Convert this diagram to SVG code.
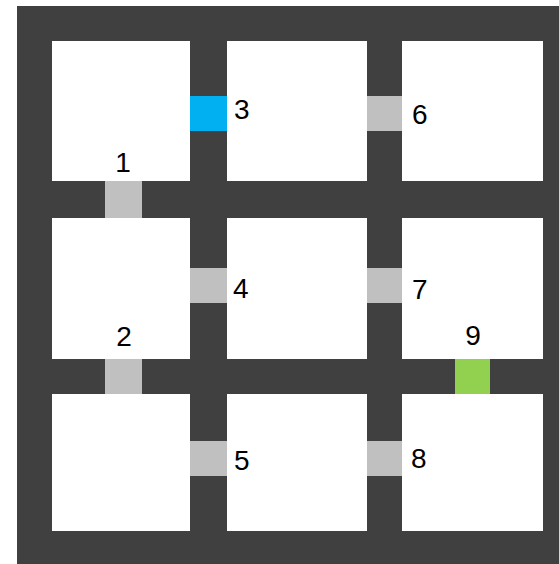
<svg xmlns="http://www.w3.org/2000/svg" width="559" height="564" viewBox="0 0 559 564">
<style>
.room{fill:#ffffff}
.door{fill:#c0c0c0}
.lbl{font-family:"Liberation Sans",Arial,sans-serif;font-size:28px;fill:#000}
</style>
<rect x="0" y="0" width="559" height="564" fill="#ffffff"/>
<rect x="17" y="6" width="542" height="558" fill="#404040"/>
<g id="rooms">
<rect class="room" x="52" y="41" width="138" height="140"/>
<rect class="room" x="227" y="41" width="140" height="140"/>
<rect class="room" x="402" y="41" width="141" height="140"/>
<rect class="room" x="52" y="218" width="138" height="141"/>
<rect class="room" x="227" y="218" width="140" height="141"/>
<rect class="room" x="402" y="218" width="141" height="141"/>
<rect class="room" x="52" y="394" width="138" height="137"/>
<rect class="room" x="227" y="394" width="140" height="137"/>
<rect class="room" x="402" y="394" width="141" height="137"/>
</g>
<g id="door1"><rect class="door" x="105" y="181" width="37" height="37"/><text class="lbl" x="123" y="172" text-anchor="middle">1</text></g>
<g id="door2"><rect class="door" x="105" y="359" width="37" height="35"/><text class="lbl" x="124" y="346" text-anchor="middle">2</text></g>
<g id="door3"><rect x="190" y="96" width="37" height="35" fill="#00b0f0"/><text class="lbl" x="234" y="119">3</text></g>
<g id="door4"><rect class="door" x="190" y="268" width="37" height="35"/><text class="lbl" x="233" y="298">4</text></g>
<g id="door5"><rect class="door" x="190" y="441" width="37" height="35"/><text class="lbl" x="234" y="470">5</text></g>
<g id="door6"><rect class="door" x="367" y="96" width="35" height="35"/><text class="lbl" x="412" y="124">6</text></g>
<g id="door7"><rect class="door" x="367" y="268" width="35" height="35"/><text class="lbl" x="412" y="299">7</text></g>
<g id="door8"><rect class="door" x="367" y="441" width="35" height="35"/><text class="lbl" x="411" y="468">8</text></g>
<g id="door9"><rect x="455" y="359" width="35" height="35" fill="#92d050"/><text class="lbl" x="473" y="345" text-anchor="middle">9</text></g>
<g id="connectors"></g>
</svg>
